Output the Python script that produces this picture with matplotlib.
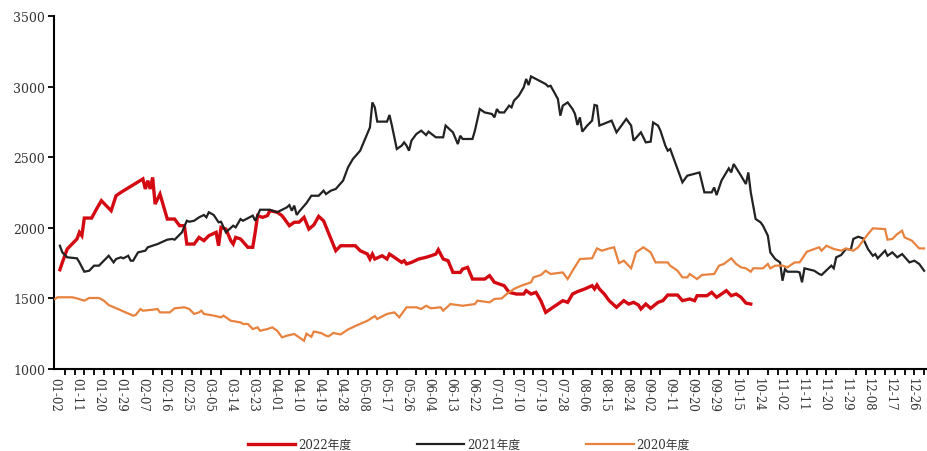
import datetime
import matplotlib
matplotlib.use("Agg")
import matplotlib.pyplot as plt
from matplotlib.ticker import FixedLocator

# 2022 season
dates_2022 = ["01-04", "01-05", "01-07", "01-09", "01-11", "01-12", "01-13", "01-14", "01-17", "01-19",
              "01-21", "01-25", "01-27", "01-29", "02-07", "02-08", "02-09", "02-10", "02-11", "02-12",
              "02-13", "02-14", "02-15", "02-17", "02-20", "02-22", "02-24", "02-25", "02-28", "03-01",
              "03-03", "03-05", "03-08", "03-09", "03-10", "03-12", "03-14", "03-15", "03-16", "03-18",
              "03-21", "03-23", "03-24", "03-25", "03-27", "03-29", "03-30", "04-02", "04-04", "04-07",
              "04-09", "04-11", "04-13", "04-15", "04-17", "04-19", "04-21", "04-26", "04-28", "05-05",
              "05-07", "05-10", "05-11", "05-12", "05-13", "05-16", "05-18", "05-19", "05-21", "05-24",
              "05-25", "05-26", "05-28", "05-31", "06-03", "06-05", "06-07", "06-08", "06-10", "06-12",
              "06-14", "06-17", "06-18", "06-20", "06-22", "06-27", "06-29", "07-01", "07-05", "07-07",
              "07-10", "07-13", "07-14", "07-16", "07-18", "07-20", "07-22", "07-25", "07-27", "07-29",
              "07-31", "08-02", "08-04", "08-07", "08-10", "08-11", "08-12", "08-13", "08-15", "08-17",
              "08-20", "08-23", "08-25", "08-27", "08-29", "08-30", "09-01", "09-03", "09-06", "09-08",
              "09-10", "09-14", "09-16", "09-19", "09-21", "09-22", "09-26", "09-28", "09-30", "10-08",
              "10-11", "10-13", "10-15", "10-17", "10-19", "10-21"]
values_2022 = [1703, 1755, 1850, 1885, 1921, 1968, 1944, 2069, 2069, 2133,
               2192, 2121, 2227, 2251, 2346, 2275, 2334, 2275, 2357, 2168,
               2204, 2239, 2180, 2062, 2062, 2015, 2015, 1885, 1885, 1932,
               1909, 1944, 1968, 1873, 2003, 1991, 1909, 1885, 1932, 1921,
               1862, 1862, 1968, 2086, 2074, 2086, 2121, 2110, 2086, 2015,
               2039, 2040, 2074, 1991, 2020, 2081, 2050, 1838, 1873, 1873,
               1838, 1814, 1779, 1814, 1779, 1802, 1779, 1814, 1791, 1755,
               1767, 1744, 1755, 1779, 1791, 1802, 1814, 1845, 1779, 1767,
               1684, 1684, 1708, 1720, 1637, 1637, 1661, 1614, 1590, 1543,
               1531, 1531, 1555, 1531, 1543, 1484, 1401, 1437, 1460, 1484,
               1472, 1531, 1548, 1567, 1590, 1567, 1595, 1567, 1531, 1484,
               1437, 1484, 1460, 1472, 1453, 1425, 1460, 1430, 1472, 1484,
               1524, 1524, 1484, 1496, 1484, 1519, 1519, 1543, 1508, 1519,
               1555, 1519, 1531, 1508, 1467, 1460]

# 2021 season
dates_2021 = ["01-04", "01-05", "01-07", "01-11", "01-12", "01-14", "01-16", "01-18", "01-20", "01-22",
              "01-24", "01-26", "01-27", "01-29", "01-30", "02-01", "02-02", "02-03", "02-05", "02-08",
              "02-09", "02-13", "02-17", "02-19", "02-20", "02-23", "02-25", "02-26", "02-28", "03-01",
              "03-03", "03-04", "03-05", "03-07", "03-09", "03-10", "03-12", "03-15", "03-16", "03-18",
              "03-19", "03-23", "03-24", "03-26", "03-30", "04-02", "04-06", "04-07", "04-08", "04-09",
              "04-10", "04-11", "04-14", "04-16", "04-19", "04-21", "04-22", "04-24", "04-26", "04-29",
              "05-02", "05-04", "05-07", "05-09", "05-11", "05-12", "05-13", "05-14", "05-18", "05-19",
              "05-20", "05-22", "05-24", "05-25", "05-26", "05-27", "05-28", "05-30", "06-01", "06-03",
              "06-04", "06-07", "06-10", "06-11", "06-14", "06-16", "06-17", "06-18", "06-22", "06-23",
              "06-25", "06-27", "06-30", "07-01", "07-02", "07-03", "07-05", "07-07", "07-08", "07-09",
              "07-11", "07-13", "07-14", "07-15", "07-16", "07-18", "07-22", "07-23", "07-24", "07-27",
              "07-28", "07-29", "07-31", "08-02", "08-03", "08-04", "08-05", "08-06", "08-08", "08-10",
              "08-11", "08-12", "08-13", "08-18", "08-20", "08-24", "08-26", "08-27", "08-30", "09-01",
              "09-03", "09-04", "09-06", "09-07", "09-09", "09-10", "09-11", "09-16", "09-18", "09-23",
              "09-25", "09-28", "09-29", "09-30", "10-09", "10-12", "10-13", "10-14", "10-17", "10-19",
              "10-20", "10-21", "10-23", "10-25", "10-26", "10-28", "10-29", "10-31", "11-02", "11-03",
              "11-04", "11-05", "11-09", "11-10", "11-11", "11-12", "11-16", "11-18", "11-19", "11-23",
              "11-24", "11-25", "11-27", "11-29", "12-01", "12-02", "12-04", "12-06", "12-08", "12-10",
              "12-11", "12-12", "12-15", "12-16", "12-18", "12-20", "12-22", "12-25", "12-27", "12-29",
              "12-31"]
values_2021 = [1873, 1826, 1791, 1784, 1755, 1689, 1696, 1732, 1732, 1767,
               1802, 1755, 1779, 1791, 1784, 1802, 1767, 1767, 1826, 1838,
               1862, 1885, 1916, 1921, 1916, 1968, 2050, 2043, 2050, 2074,
               2091, 2074, 2110, 2091, 2039, 2043, 1968, 2015, 2003, 2062,
               2050, 2086, 2050, 2128, 2128, 2110, 2145, 2161, 2121, 2157,
               2091, 2115, 2175, 2227, 2227, 2263, 2239, 2263, 2275, 2334,
               2427, 2487, 2546, 2629, 2711, 2888, 2853, 2752, 2752, 2799,
               2724, 2558, 2582, 2605, 2582, 2546, 2617, 2664, 2688, 2657,
               2681, 2641, 2641, 2724, 2676, 2593, 2652, 2629, 2629, 2688,
               2841, 2817, 2806, 2782, 2841, 2817, 2817, 2865, 2853, 2900,
               2936, 2995, 3054, 3011, 3072, 3054, 3018, 3001, 3006, 2912,
               2794, 2865, 2888, 2841, 2806, 2728, 2782, 2681, 2724, 2759,
               2870, 2865, 2724, 2759, 2676, 2771, 2724, 2617, 2676, 2605,
               2610, 2746, 2724, 2688, 2582, 2546, 2558, 2322, 2369, 2392,
               2251, 2251, 2286, 2232, 2334, 2421, 2392, 2452, 2369, 2310,
               2392, 2251, 2062, 2039, 2015, 1944, 1826, 1779, 1755, 1625,
               1708, 1689, 1689, 1684, 1614, 1713, 1696, 1673, 1666, 1732,
               1713, 1791, 1807, 1850, 1845, 1921, 1937, 1925, 1850, 1802,
               1814, 1784, 1838, 1802, 1826, 1791, 1814, 1755, 1767, 1744,
               1696]

# 2020 season
dates_2020 = ["01-02", "01-03", "01-09", "01-11", "01-14", "01-16", "01-20", "01-22", "01-24", "01-31",
              "02-03", "02-04", "02-06", "02-07", "02-11", "02-13", "02-14", "02-18", "02-20", "02-24",
              "02-26", "02-28", "03-01", "03-02", "03-03", "03-07", "03-10", "03-11", "03-12", "03-14",
              "03-18", "03-19", "03-21", "03-23", "03-25", "03-26", "03-29", "03-31", "04-02", "04-04",
              "04-06", "04-09", "04-11", "04-13", "04-14", "04-16", "04-17", "04-20", "04-22", "04-23",
              "04-25", "04-28", "05-02", "05-06", "05-10", "05-13", "05-14", "05-18", "05-21", "05-23",
              "05-26", "05-30", "06-01", "06-03", "06-05", "06-09", "06-10", "06-13", "06-18", "06-23",
              "06-24", "06-29", "07-01", "07-04", "07-06", "07-09", "07-12", "07-16", "07-17", "07-20",
              "07-22", "07-24", "07-29", "07-31", "08-02", "08-05", "08-10", "08-12", "08-14", "08-17",
              "08-19", "08-21", "08-23", "08-26", "08-28", "08-31", "09-01", "09-03", "09-05", "09-08",
              "09-10", "09-11", "09-14", "09-16", "09-18", "09-19", "09-22", "09-24", "09-29", "10-08",
              "10-10", "10-13", "10-15", "10-17", "10-19", "10-21", "10-22", "10-26", "10-28", "10-29",
              "10-31", "11-03", "11-05", "11-08", "11-10", "11-13", "11-16", "11-18", "11-19", "11-21",
              "11-24", "11-27", "11-29", "12-02", "12-04", "12-06", "12-08", "12-10", "12-15", "12-16",
              "12-18", "12-20", "12-22", "12-23", "12-26", "12-29", "12-31"]
values_2020 = [1496, 1508, 1508, 1500, 1484, 1503, 1503, 1484, 1453, 1401,
               1378, 1382, 1425, 1413, 1420, 1425, 1401, 1401, 1430, 1437,
               1425, 1390, 1401, 1413, 1390, 1378, 1366, 1378, 1366, 1342,
               1330, 1319, 1319, 1283, 1295, 1271, 1283, 1295, 1271, 1224,
               1236, 1248, 1224, 1200, 1250, 1228, 1265, 1255, 1236, 1231,
               1255, 1245, 1280, 1312, 1342, 1375, 1354, 1390, 1401, 1366,
               1437, 1437, 1425, 1448, 1430, 1437, 1413, 1460, 1448, 1460,
               1484, 1472, 1496, 1500, 1531, 1567, 1590, 1614, 1649, 1666,
               1696, 1673, 1684, 1637, 1696, 1779, 1784, 1854, 1838, 1854,
               1862, 1750, 1767, 1713, 1826, 1862, 1850, 1826, 1755, 1755,
               1755, 1732, 1696, 1649, 1649, 1673, 1637, 1666, 1673, 1732,
               1744, 1784, 1744, 1720, 1713, 1689, 1713, 1713, 1744, 1713,
               1732, 1732, 1720, 1755, 1755, 1831, 1850, 1862, 1838, 1873,
               1850, 1838, 1854, 1838, 1862, 1909, 1956, 1996, 1991, 1916,
               1921, 1956, 1979, 1932, 1909, 1854, 1854]

series_names = ["2022年度", "2021年度", "2020年度"]
series_colors = ["#d40a12", "#222222", "#e8823f"]
series_widths = [2.4, 1.6, 1.6]

y_ticks = [1000, 1500, 2000, 2500, 3000, 3500]

# category axis: every calendar day of a leap year, minus the exchange holidays
closed_days = {"05-01", "10-01", "10-02", "10-03", "10-04", "10-05", "10-06", "10-07"}
categories = []
day = datetime.date(2020, 1, 2)
while day.year == 2020:
    label = day.strftime("%m-%d")
    if label not in closed_days:
        categories.append(label)
    day += datetime.timedelta(days=1)
cat_index = {c: i for i, c in enumerate(categories)}

plt.rcParams["font.family"] = ["DejaVu Serif", "Noto Sans CJK SC"]

fig = plt.figure(figsize=(9.28, 4.52), dpi=100)
ax = fig.add_axes([0.0577, 0.1814, 0.9423, 0.781])

all_dates = [dates_2022, dates_2021, dates_2020]
all_values = [values_2022, values_2021, values_2020]
for k in range(3):
    xs = [cat_index[d] for d in all_dates[k]]
    ax.plot(xs, all_values[k], color=series_colors[k], lw=series_widths[k],
            label=series_names[k], solid_joinstyle="miter", zorder=2 + k)

ax.set_xlim(-0.6, 357.6)
ax.set_ylim(1000, 3500)
ax.set_yticks(y_ticks)
ax.set_yticklabels([str(v) for v in y_ticks], fontsize=9, color="#333333")

label_pos = list(range(0, len(categories) - 4, 9))
ax.set_xticks(label_pos)
ax.set_xticklabels([categories[i] for i in label_pos], rotation=-90, fontsize=8.5,
                   color="#333333", va="top", ha="center")
ax.xaxis.set_minor_locator(FixedLocator(list(range(0, len(categories), 4))))
ax.tick_params(axis="x", which="major", length=0, pad=6)
ax.tick_params(axis="x", which="minor", length=4, width=1.3, direction="out")
ax.tick_params(axis="y", length=4, width=1.3, direction="out", pad=2)

for side in ["top", "right"]:
    ax.spines[side].set_visible(False)
for side in ["left", "bottom"]:
    ax.spines[side].set_linewidth(1.5)
    ax.spines[side].set_color("black")

fig.legend(loc="center", bbox_to_anchor=(0.505, 0.015), ncol=3, frameon=False,
           fontsize=8.5, handlelength=4.0, handletextpad=0.25, columnspacing=5.6,
           labelcolor="#333333")

fig.savefig("out.png", dpi=100)
